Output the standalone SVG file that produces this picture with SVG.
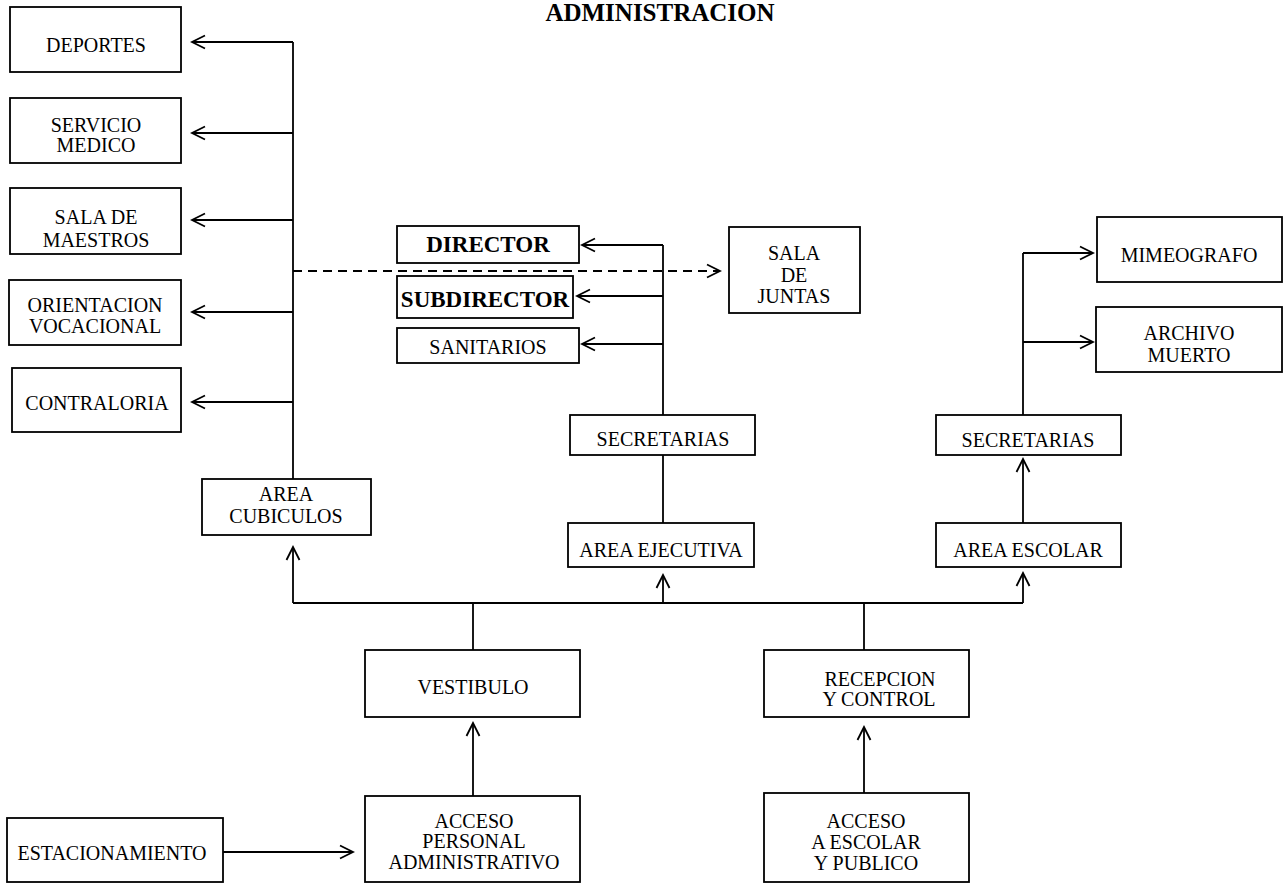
<svg xmlns="http://www.w3.org/2000/svg" width="1287" height="883" viewBox="0 0 1287 883">
<style>
.b{fill:#fff;stroke:#000;stroke-width:1.8}
.t{font-family:"Liberation Serif","Times New Roman",serif;font-size:20px;fill:#000;text-anchor:middle}
.bd{font-weight:bold;font-size:23px}
.c{fill:none;stroke:#000;stroke-width:1.8}
.d{stroke-dasharray:9 6}
.a{marker-end:url(#ah)}
</style>
<defs>
<marker id="ah" viewBox="0 0 16 16" refX="14" refY="8" markerWidth="16" markerHeight="16" markerUnits="userSpaceOnUse" orient="auto">
<path d="M1,1.5 L14,8 L1,14.5" fill="none" stroke="#000" stroke-width="1.8"/>
</marker>
</defs>
<rect width="1287" height="883" fill="#fff"/>
<text x="660" y="21" class="t" style="font-weight:bold;font-size:25px">ADMINISTRACION</text>

<g id="connectors">
<path class="c" d="M293,42 V479"/>
<path class="c a" d="M293,42 H192"/>
<path class="c a" d="M293,133 H192"/>
<path class="c a" d="M293,220 H192"/>
<path class="c a" d="M293,312 H192"/>
<path class="c a" d="M293,402 H192"/>
<path class="c d a" d="M293,271 H720"/>
<path class="c" d="M663,245 V415"/>
<path class="c a" d="M663,245 H582"/>
<path class="c a" d="M663,296 H577"/>
<path class="c a" d="M663,344 H582"/>
<path class="c" d="M663,455 V523"/>
<path class="c" d="M1023,253 V415"/>
<path class="c a" d="M1023,253 H1093"/>
<path class="c a" d="M1023,342 H1093"/>
<path class="c a" d="M1023,523 V459"/>
<path class="c" d="M293,603 H1023"/>
<path class="c a" d="M293,603 V547"/>
<path class="c a" d="M663,603 V575"/>
<path class="c a" d="M1023,603 V573"/>
<path class="c" d="M473,650 V603"/>
<path class="c" d="M864,650 V603"/>
<path class="c a" d="M473,796 V723"/>
<path class="c a" d="M864,793 V727"/>
<path class="c a" d="M223,852 H353"/>
</g>

<g id="deportes"><rect class="b" x="10" y="7" width="171" height="65"/><text class="t" x="96" y="52">DEPORTES</text></g>
<g id="servicio-medico"><rect class="b" x="10" y="98" width="171" height="65"/><text class="t" x="96" y="132">SERVICIO</text><text class="t" x="96" y="152">MEDICO</text></g>
<g id="sala-maestros"><rect class="b" x="10" y="188" width="171" height="66"/><text class="t" x="96" y="224">SALA DE</text><text class="t" x="96" y="247">MAESTROS</text></g>
<g id="orientacion"><rect class="b" x="9" y="280" width="172" height="65"/><text class="t" x="95" y="312">ORIENTACION</text><text class="t" x="95" y="333">VOCACIONAL</text></g>
<g id="contraloria"><rect class="b" x="12" y="368" width="169" height="64"/><text class="t" x="97" y="410">CONTRALORIA</text></g>
<g id="area-cubiculos"><rect class="b" x="202" y="479" width="169" height="56"/><text class="t" x="286" y="501">AREA</text><text class="t" x="286" y="523">CUBICULOS</text></g>
<g id="director"><rect class="b" x="397" y="226" width="182" height="37"/><text class="t bd" x="488" y="252">DIRECTOR</text></g>
<g id="subdirector"><rect class="b" x="397" y="276" width="176" height="42"/><text class="t bd" x="485" y="307">SUBDIRECTOR</text></g>
<g id="sanitarios"><rect class="b" x="397" y="328" width="182" height="35"/><text class="t" x="488" y="354">SANITARIOS</text></g>
<g id="sala-juntas"><rect class="b" x="729" y="227" width="131" height="86"/><text class="t" x="794" y="260">SALA</text><text class="t" x="794" y="282">DE</text><text class="t" x="794" y="303">JUNTAS</text></g>
<g id="mimeografo"><rect class="b" x="1097" y="217" width="185" height="65"/><text class="t" x="1189" y="262">MIMEOGRAFO</text></g>
<g id="archivo-muerto"><rect class="b" x="1096" y="307" width="186" height="65"/><text class="t" x="1189" y="340">ARCHIVO</text><text class="t" x="1189" y="362">MUERTO</text></g>
<g id="secretarias-ejecutiva"><rect class="b" x="570" y="415" width="185" height="40"/><text class="t" x="663" y="446">SECRETARIAS</text></g>
<g id="area-ejecutiva"><rect class="b" x="568" y="523" width="186" height="44"/><text class="t" x="661" y="557">AREA EJECUTIVA</text></g>
<g id="secretarias-escolar"><rect class="b" x="936" y="415" width="185" height="40"/><text class="t" x="1028" y="447">SECRETARIAS</text></g>
<g id="area-escolar"><rect class="b" x="936" y="523" width="185" height="44"/><text class="t" x="1028" y="557">AREA ESCOLAR</text></g>
<g id="vestibulo"><rect class="b" x="365" y="650" width="215" height="67"/><text class="t" x="473" y="694">VESTIBULO</text></g>
<g id="recepcion"><rect class="b" x="764" y="650" width="205" height="67"/><text class="t" x="880" y="686">RECEPCION</text><text class="t" x="879" y="706">Y CONTROL</text></g>
<g id="acceso-personal"><rect class="b" x="365" y="796" width="215" height="86"/><text class="t" x="474" y="828">ACCESO</text><text class="t" x="474" y="848">PERSONAL</text><text class="t" x="474" y="869">ADMINISTRATIVO</text></g>
<g id="acceso-escolar"><rect class="b" x="764" y="793" width="205" height="89"/><text class="t" x="866" y="828">ACCESO</text><text class="t" x="866" y="849">A ESCOLAR</text><text class="t" x="866" y="870">Y PUBLICO</text></g>
<g id="estacionamiento"><rect class="b" x="7" y="818" width="216" height="64"/><text class="t" x="112" y="860">ESTACIONAMIENTO</text></g>
</svg>
